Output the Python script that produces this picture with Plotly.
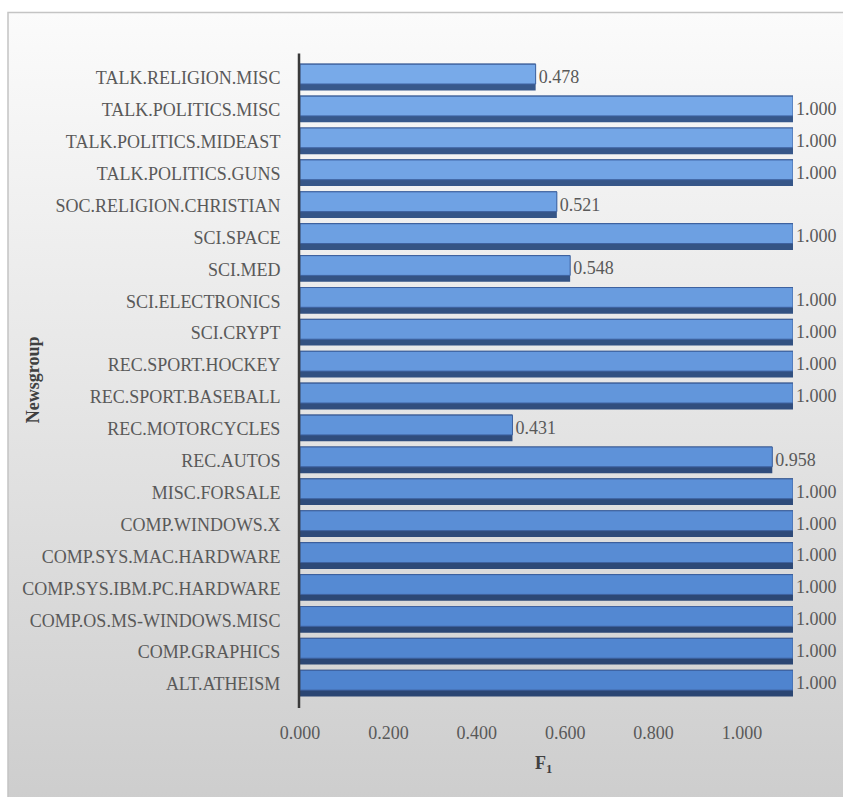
import base64
import plotly.graph_objects as go

# Newsgroups listed bottom-to-top as they appear on the category axis
categories = [
    "ALT.ATHEISM", "COMP.GRAPHICS", "COMP.OS.MS-WINDOWS.MISC",
    "COMP.SYS.IBM.PC.HARDWARE", "COMP.SYS.MAC.HARDWARE", "COMP.WINDOWS.X",
    "MISC.FORSALE", "REC.AUTOS", "REC.MOTORCYCLES", "REC.SPORT.BASEBALL",
    "REC.SPORT.HOCKEY", "SCI.CRYPT", "SCI.ELECTRONICS", "SCI.MED",
    "SCI.SPACE", "SOC.RELIGION.CHRISTIAN", "TALK.POLITICS.GUNS",
    "TALK.POLITICS.MIDEAST", "TALK.POLITICS.MISC", "TALK.RELIGION.MISC",
]
f1_scores = [
    1.000, 1.000, 1.000, 1.000, 1.000, 1.000, 1.000, 0.958, 0.431, 1.000,
    1.000, 1.000, 1.000, 0.548, 1.000, 0.521, 1.000, 1.000, 1.000, 0.478,
]
x_tick_values = [0.0, 0.2, 0.4, 0.6, 0.8, 1.0]
x_tick_labels = ["0.000", "0.200", "0.400", "0.600", "0.800", "1.000"]

FONT = "Liberation Serif"
TEXT = "#595959"

# Figure geometry (pixels)
W, H = 843, 797
L, R, T, B = 300, 50, 61.5, 97
PW, PH = W - L - R, H - T - B


def px_x(px):
    return (px - L) / PW


def px_y(py):
    return (H - B - py) / PH


# The floor labels of the 3-D style axis sit on a slightly compressed scale
FLOOR_SCALE = 442 / 493
tick_positions = [v * FLOOR_SCALE for v in x_tick_values]


def blend(c1, c2, t):
    a = [int(c1[i:i + 2], 16) for i in (1, 3, 5)]
    b = [int(c2[i:i + 2], 16) for i in (1, 3, 5)]
    return "#" + "".join(f"{round(a[k] + (b[k] - a[k]) * t):02x}" for k in range(3))


n = len(categories)
face_colors = [blend("#4f84cf", "#78aae9", i / (n - 1)) for i in range(n)]
edge_colors = [blend("#2a4572", "#38598c", i / (n - 1)) for i in range(n)]

fig = go.Figure()

# dark lower edge of each bar, carrying the value labels
fig.add_trace(go.Bar(
    y=categories, x=f1_scores, orientation="h",
    width=0.84, offset=-0.39,
    marker=dict(color=edge_colors, line=dict(width=0)),
    text=[f"{v:.3f}" for v in f1_scores], textposition="outside",
    textfont=dict(family=FONT, size=18, color=TEXT),
    constraintext="none", cliponaxis=False, hoverinfo="skip",
))
# lighter bar face
fig.add_trace(go.Bar(
    y=categories, x=f1_scores, orientation="h",
    width=0.62, offset=-0.19,
    marker=dict(color=face_colors, line=dict(color="#3e62a0", width=1)),
    hovertemplate="%{y}: %{x:.3f}<extra></extra>",
))

svg = (
    '<svg xmlns="http://www.w3.org/2000/svg" width="100" height="100" '
    'preserveAspectRatio="none"><defs><linearGradient id="g" x1="0" y1="0" '
    'x2="0" y2="1"><stop offset="0" stop-color="#fbfbfb"/>'
    '<stop offset="0.45" stop-color="#e7e7e7"/>'
    '<stop offset="1" stop-color="#cdcdcd"/></linearGradient></defs>'
    '<rect width="100" height="100" fill="url(#g)"/></svg>'
)
bg_src = "data:image/svg+xml;base64," + base64.b64encode(svg.encode()).decode()

fig.update_layout(
    width=W, height=H,
    margin=dict(l=L, r=R, t=T, b=B, pad=0),
    paper_bgcolor="white",
    plot_bgcolor="rgba(255,255,255,0.45)",
    barmode="overlay",
    showlegend=False,
    font=dict(family=FONT, size=18, color=TEXT),
    images=[dict(
        source=bg_src, xref="paper", yref="paper",
        x=px_x(8), y=px_y(12), sizex=(W + 10 - 8) / PW, sizey=(H + 10 - 12) / PH,
        xanchor="left", yanchor="top", sizing="stretch", layer="below",
    )],
    shapes=[
        dict(type="rect", xref="paper", yref="paper",
             x0=px_x(8), x1=px_x(W + 10), y0=px_y(H + 10), y1=px_y(12),
             line=dict(color="#c4c4c4", width=1.5), layer="below"),
        dict(type="line", xref="paper", yref="paper",
             x0=px_x(299), x1=px_x(299), y0=px_y(708), y1=px_y(53),
             line=dict(color="#3a3a3a", width=2.5)),
    ],
    annotations=[
        dict(text="<b>Newsgroup</b>", xref="paper", yref="paper",
             x=px_x(33), y=px_y(380), xanchor="center", yanchor="middle",
             textangle=-90, showarrow=False,
             font=dict(family=FONT, size=18, color="#404040")),
        dict(text="<b>F<sub>1</sub></b>", xref="paper", yref="paper",
             x=px_x(543), y=px_y(765), xanchor="center", yanchor="middle",
             showarrow=False,
             font=dict(family=FONT, size=18, color="#404040")),
    ],
)

fig.update_xaxes(
    range=[0, 1], showgrid=False, zeroline=False, showline=False,
    tickvals=tick_positions, ticktext=x_tick_labels,
    ticks="outside", ticklen=16, tickcolor="rgba(0,0,0,0)",
    tickfont=dict(family=FONT, size=18, color=TEXT),
)
fig.update_yaxes(
    type="category", range=[-0.5, n - 0.5], showgrid=False,
    showline=False, zeroline=False,
    ticks="outside", ticklen=15, tickcolor="rgba(0,0,0,0)",
    tickfont=dict(family=FONT, size=18, color=TEXT),
)

fig.write_html("out.html")
